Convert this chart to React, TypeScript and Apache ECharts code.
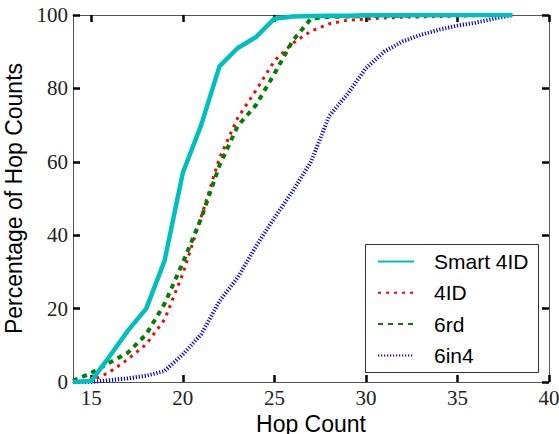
import React, { useEffect, useRef } from "react";
import * as echarts from "echarts";

const hops = [14, 15, 16, 17, 18, 19, 20, 21, 22, 23, 24, 25, 26, 27, 28, 29, 30, 31, 32, 33, 34, 35, 36, 37, 38];
const smart4ID = [0, 0.3, 7, 14, 20, 33, 57, 70, 86, 91, 94, 99, 99.6, 99.7, 99.8, 99.8, 99.9, 99.9, 99.9, 100, 100, 100, 100, 100, 100];
const fourID = [0, 0.3, 2.7, 6.2, 10.3, 17, 29.5, 45, 61, 72, 79.5, 87.5, 92.3, 95.6, 97.6, 98.6, 98.9, 99.2, 99.4, 99.5, 99.6, 99.7, 99.8, 99.9, 100];
const sixRd = [0.3, 2.5, 5.3, 8, 13, 21.3, 32.5, 44.6, 59, 69.8, 75.5, 84, 93, 99, 99.5, 99.6, 99.7, 99.8, 99.8, 99.9, 99.9, 100, 100, 100, 100];
const sixIn4 = [0, 0, 0.5, 1, 1.7, 3, 7.5, 13, 22, 28.5, 37, 44.7, 52, 60, 72.5, 78.5, 85.5, 90, 92.8, 94.6, 96, 97.1, 97.9, 99, 100];

const seriesNames = ["Smart 4ID", "4ID", "6rd", "6in4"];
const xTicks = [15, 20, 25, 30, 35, 40];
const yTicks = [0, 20, 40, 60, 80, 100];

export default function App() {
  const ref = useRef<HTMLDivElement>(null);
  useEffect(() => {
    document.body.style.margin = "0";
    const chart = echarts.init(ref.current!, null, { renderer: "svg" });
    const pairs = (ys: number[]) => hops.map((h, i) => [h, ys[i]]);
    const tick = (vals: number[]) => ({
      show: true,
      inside: true,
      length: 7,
      customValues: vals,
      lineStyle: { color: "#000", width: 2.5 },
    });
    const axisLine = { show: true, onZero: false, lineStyle: { color: "#555", width: 1 } };
    const labelFont = { fontFamily: "Liberation Serif", fontSize: 21, color: "#222" };
    const nameFont = { fontFamily: "Liberation Sans", fontSize: 23, color: "#000", lineHeight: 23 };
    chart.setOption({
      animation: false,
      grid: { left: 73, right: 10, top: 15, bottom: 52, containLabel: false, outerBoundsMode: "none" },
      xAxis: [
        {
          type: "value", min: 14, max: 40, position: "bottom",
          axisLine, axisTick: tick(xTicks),
          axisLabel: { customValues: xTicks, margin: 5, ...labelFont },
          splitLine: { show: false },
          name: "Hop Count", nameLocation: "middle", nameGap: 27, nameTextStyle: nameFont,
        },
        {
          type: "value", min: 14, max: 40, position: "top",
          axisLine, axisTick: tick(xTicks),
          axisLabel: { show: false, customValues: xTicks },
          splitLine: { show: false },
        },
      ],
      yAxis: [
        {
          type: "value", min: 0, max: 100, interval: 20, position: "left",
          axisLine, axisTick: tick(yTicks),
          axisLabel: { customValues: yTicks, margin: 5, ...labelFont },
          splitLine: { show: false },
          name: "Percentage of Hop Counts", nameLocation: "middle", nameGap: 36, nameTextStyle: nameFont,
        },
        {
          type: "value", min: 0, max: 100, interval: 20, position: "right",
          axisLine, axisTick: tick(yTicks),
          axisLabel: { show: false },
          splitLine: { show: false },
        },
      ],
      legend: {
        orient: "vertical",
        left: 377,
        top: 251,
        padding: 0,
        itemWidth: 36,
        itemHeight: 20,
        itemGap: 10.3,
        data: seriesNames,
        itemStyle: { color: "rgba(0,0,0,0)", borderWidth: 0, opacity: 0 },
        textStyle: { fontFamily: "Liberation Sans", fontSize: 21, color: "#000", padding: [0, 0, 0, 15] },
      },
      graphic: [
        {
          type: "rect",
          shape: { x: 365.5, y: 244.5, width: 173, height: 128 },
          style: { fill: "none", stroke: "#333", lineWidth: 1 },
          z: 10,
        },
      ],
      series: [
        {
          name: seriesNames[0], type: "line", symbol: "none", data: pairs(smart4ID),
          color: "#00BFBF", lineStyle: { color: "#00BFBF", width: 4.5, type: "solid" }, z: 5,
        },
        {
          name: seriesNames[1], type: "line", symbol: "none", data: pairs(fourID),
          color: "#FF0000", lineStyle: { color: "#FF0000", width: 3, type: [3, 5] }, z: 3,
        },
        {
          name: seriesNames[2], type: "line", symbol: "none", data: pairs(sixRd),
          color: "#008000", lineStyle: { color: "#008000", width: 4, type: [5, 5] }, z: 4,
        },
        {
          name: seriesNames[3], type: "line", symbol: "none", data: pairs(sixIn4),
          color: "#0000FF", lineStyle: { color: "#0000FF", width: 4, type: [1.2, 1.8] }, z: 2,
        },
      ],
    });
    return () => chart.dispose();
  }, []);
  return <div ref={ref} style={{ width: 559, height: 434 }} />;
}
